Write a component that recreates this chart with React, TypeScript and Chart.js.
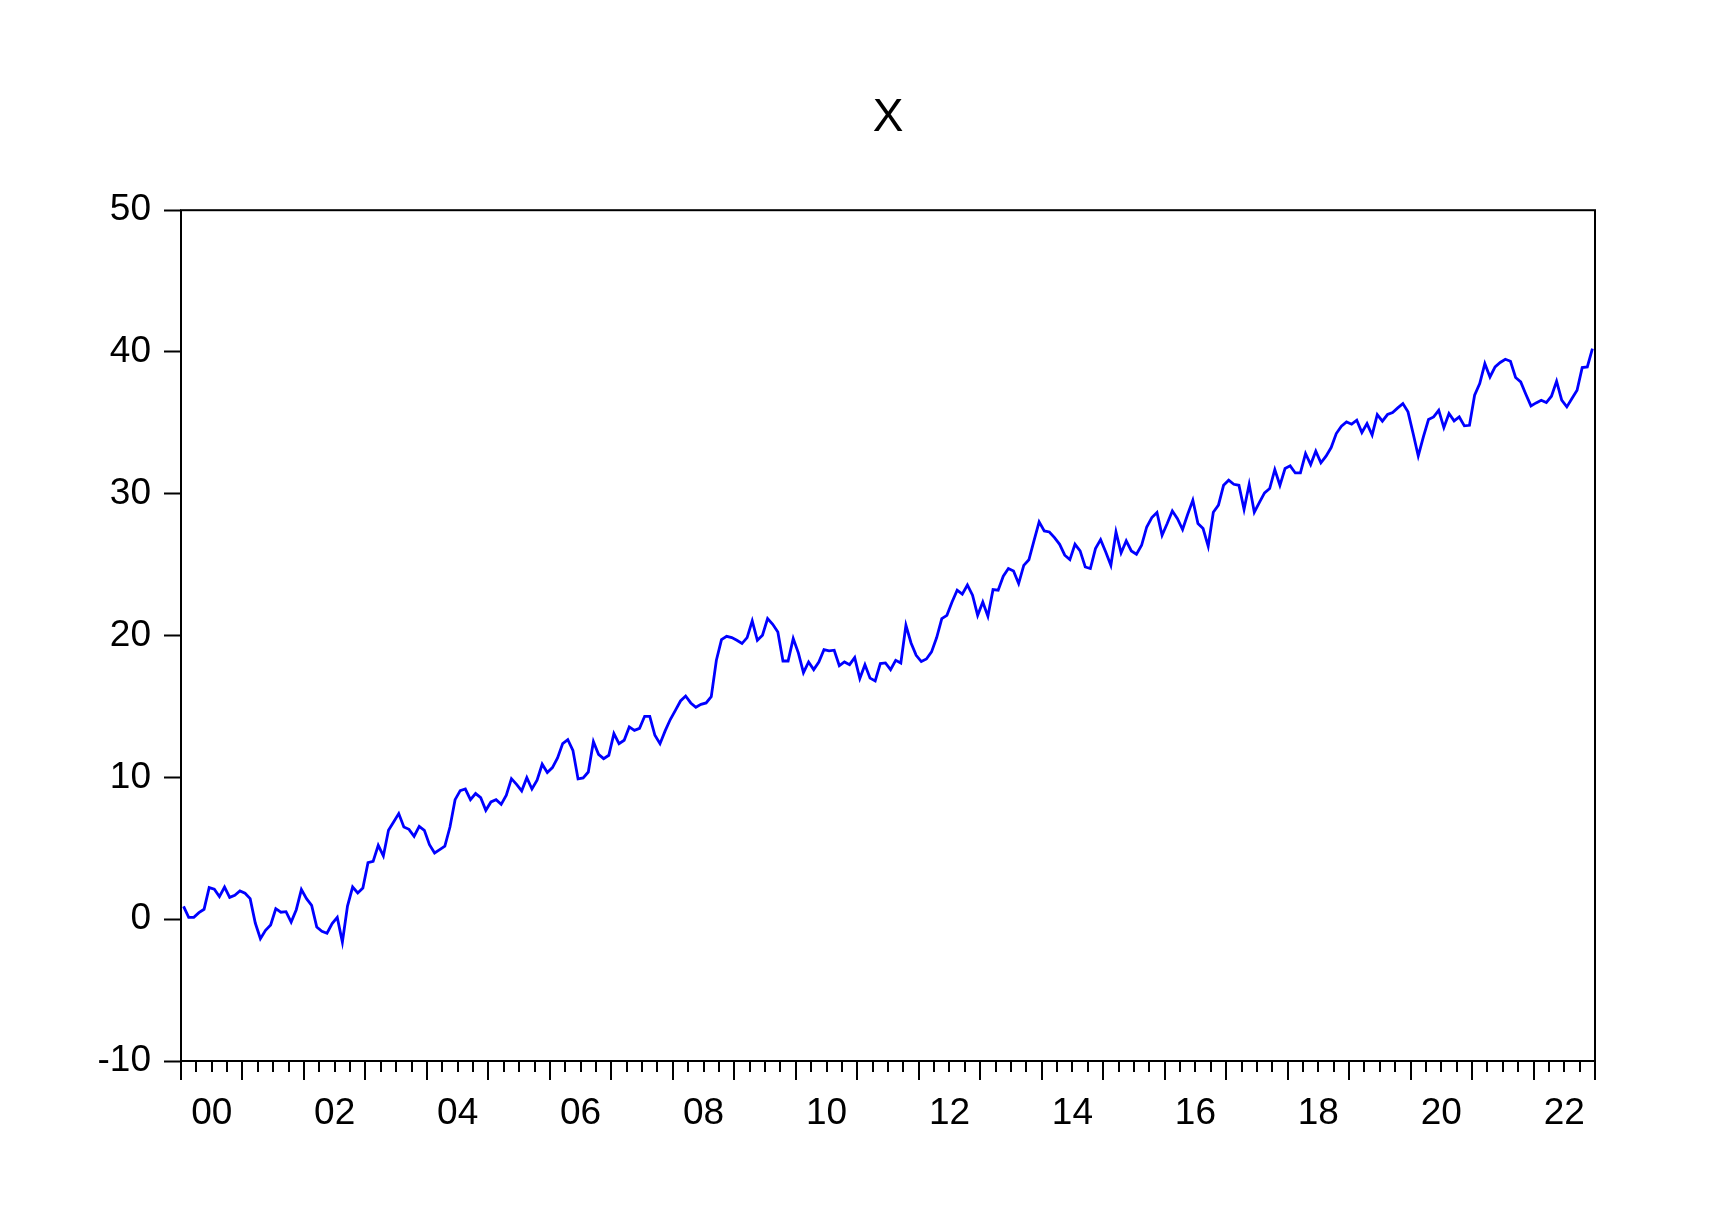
import React, { useEffect, useRef } from 'react';
import { Chart, registerables } from 'chart.js';

Chart.register(...registerables);

// Monthly observations, 2000M01 .. 2022M12
const START_YEAR = 2000;
const END_YEAR = 2023; // axis ends at the start of this year
const chartTitle = 'X';

const seriesX: number[] = [
  // 2000
  0.91, 0.13, 0.13, 0.46, 0.70, 2.23, 2.11, 1.59, 2.27, 1.54, 1.69, 1.99,
  // 2001
  1.83, 1.45, -0.27, -1.37, -0.78, -0.41, 0.74, 0.49, 0.53, -0.20, 0.67, 2.09,
  // 2002
  1.45, 0.98, -0.55, -0.85, -0.99, -0.31, 0.13, -1.61, 0.93, 2.27, 1.85, 2.2,
  // 2003
  3.99, 4.08, 5.21, 4.46, 6.27, 6.86, 7.45, 6.50, 6.34, 5.85, 6.55, 6.27,
  // 2004
  5.26, 4.67, 4.91, 5.16, 6.50, 8.43, 9.07, 9.18, 8.43, 8.86, 8.57, 7.68,
  // 2005
  8.27, 8.43, 8.10, 8.74, 9.91, 9.51, 9.05, 9.98, 9.18, 9.80, 10.93, 10.34,
  // 2006
  10.69, 11.37, 12.38, 12.66, 11.91, 9.89, 9.96, 10.38, 12.52, 11.63, 11.32, 11.56,
  // 2007
  13.09, 12.38, 12.62, 13.56, 13.32, 13.46, 14.31, 14.31, 12.97, 12.38, 13.28, 14.08,
  // 2008
  14.73, 15.39, 15.74, 15.25, 14.95, 15.15, 15.25, 15.7, 18.26, 19.72, 19.95, 19.86,
  // 2009
  19.67, 19.44, 19.86, 21.04, 19.67, 20.03, 21.20, 20.80, 20.26, 18.21, 18.21, 19.79,
  // 2010
  18.78, 17.39, 18.14, 17.60, 18.14, 19.01, 18.92, 18.97, 17.88, 18.14, 17.95, 18.45,
  // 2011
  16.97, 17.95, 17.0, 16.8, 18.03, 18.07, 17.6, 18.26, 18.07, 20.73, 19.48, 18.61,
  // 2012
  18.17, 18.35, 18.85, 19.86, 21.2, 21.43, 22.37, 23.2, 22.92, 23.57, 22.85, 21.43,
  // 2013
  22.37, 21.36, 23.24, 23.2, 24.19, 24.73, 24.56, 23.67, 24.95, 25.35, 26.7, 28.02,
  // 2014
  27.38, 27.31, 26.91, 26.44, 25.67, 25.36, 26.44, 25.97, 24.84, 24.73, 26.14, 26.77,
  // 2015
  25.90, 24.96, 27.31, 25.83, 26.68, 25.97, 25.74, 26.37, 27.66, 28.32, 28.68, 27.08,
  // 2016
  27.90, 28.79, 28.25, 27.48, 28.56, 29.55, 27.90, 27.55, 26.3, 28.7, 29.2, 30.60,
  // 2017
  30.96, 30.67, 30.60, 28.9, 30.67, 28.7, 29.4, 30.06, 30.37, 31.71, 30.60, 31.78,
  // 2018
  31.97, 31.47, 31.47, 32.84, 32.06, 33.0, 32.18, 32.65, 33.26, 34.25, 34.77, 35.07,
  // 2019
  34.91, 35.19, 34.32, 34.95, 34.15, 35.59, 35.12, 35.59, 35.73, 36.06, 36.36, 35.78,
  // 2020
  34.25, 32.67, 34.01, 35.24, 35.42, 35.89, 34.67, 35.66, 35.14, 35.42, 34.79, 34.83,
  // 2021
  36.95, 37.77, 39.18, 38.24, 38.95, 39.26, 39.49, 39.35, 38.20, 37.89, 37.02, 36.20,
  // 2022
  36.41, 36.60, 36.43, 36.88, 37.94, 36.60, 36.13, 36.72, 37.30, 38.90, 38.95, 40.24,
];

const yearLabels = ['00', '02', '04', '06', '08', '10', '12', '14', '16', '18', '20', '22'];
const yTickValues = [-10, 0, 10, 20, 30, 40, 50];

const FONT_FAMILY = "'Liberation Sans', Arial, Helvetica, sans-serif";

export default function App() {
  const ref = useRef<HTMLCanvasElement>(null);

  useEffect(() => {
    if (!ref.current) return;
    const totalMonths = (END_YEAR - START_YEAR) * 12;
    const data = seriesX.map((v, i) => ({ x: i + 0.5, y: v }));
    const quarterTicks: number[] = [];
    for (let m = 0; m <= totalMonths; m += 3) quarterTicks.push(m);

    const framePlugin = {
      id: 'frameAndTicks',
      afterDraw(chart: any) {
        const { ctx, chartArea } = chart;
        const xs = chart.scales.x;
        ctx.save();
        ctx.strokeStyle = '#000';
        ctx.lineWidth = 2;
        ctx.strokeRect(chartArea.left, chartArea.top, chartArea.right - chartArea.left, chartArea.bottom - chartArea.top);
        ctx.beginPath();
        for (const m of quarterTicks) {
          const px = Math.round(xs.getPixelForValue(m));
          const len = m % 12 === 0 ? 19 : 11;
          ctx.moveTo(px, chartArea.bottom);
          ctx.lineTo(px, chartArea.bottom + len);
        }
        ctx.stroke();
        ctx.restore();
      },
    };

    const chart = new Chart(ref.current, {
      type: 'line',
      data: {
        datasets: [
          {
            data,
            borderColor: '#0000FF',
            borderWidth: 2.8,
            pointRadius: 0,
            tension: 0,
            fill: false,
          },
        ],
      },
      options: {
        responsive: false,
        animation: false,
        events: [],
        layout: { padding: { left: 0, right: 114, top: 0, bottom: 0 } },
        plugins: {
          legend: { display: false },
          tooltip: { enabled: false },
          title: {
            display: true,
            text: chartTitle,
            fullSize: false,
            color: '#000',
            font: { family: FONT_FAMILY, size: 46, weight: 'normal', lineHeight: 1.2 },
            padding: { top: 91, bottom: 64 },
          },
        },
        scales: {
          x: {
            type: 'linear',
            min: 0,
            max: totalMonths,
            afterBuildTicks: (s: any) => {
              s.ticks = quarterTicks.map((v) => ({ value: v }));
            },
            afterFit: (s: any) => {
              s.height = 156;
            },
            ticks: {
              autoSkip: false,
              maxRotation: 0,
              minRotation: 0,
              padding: 31,
              color: '#000',
              font: { family: FONT_FAMILY, size: 37 },
              callback: (v: any) => {
                const m = Number(v);
                if (m % 24 !== 6) return '';
                const idx = (m - 6) / 24;
                return yearLabels[idx] ?? '';
              },
            },
            grid: { display: true, drawOnChartArea: false, drawTicks: false },
            border: { display: false },
          },
          y: {
            min: -10,
            max: 50,
            afterBuildTicks: (s: any) => {
              s.ticks = yTickValues.map((v) => ({ value: v }));
            },
            afterFit: (s: any) => {
              s.width = 181;
            },
            ticks: {
              padding: 13,
              color: '#000',
              font: { family: FONT_FAMILY, size: 37 },
            },
            grid: {
              display: true,
              drawOnChartArea: false,
              drawTicks: true,
              tickLength: 17,
              tickColor: '#000',
              tickWidth: 2,
            },
            border: { display: false },
          },
        },
      },
      plugins: [framePlugin],
    } as any);

    return () => chart.destroy();
  }, []);

  return (
    <div style={{ position: 'absolute', left: 0, top: 0, width: 1709, height: 1217, background: '#fff' }}>
      <canvas ref={ref} width={1709} height={1217} style={{ display: 'block', width: 1709, height: 1217 }} />
    </div>
  );
}
